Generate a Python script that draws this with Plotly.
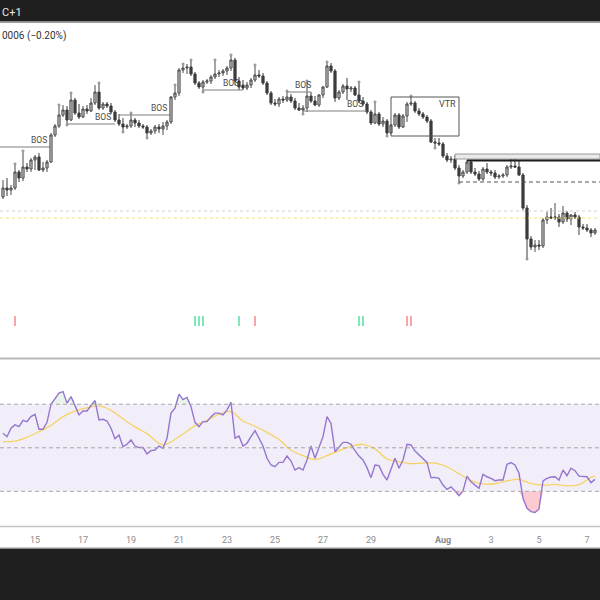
import numpy as np
import pandas as pd
import plotly.graph_objects as go

# 4h bars, first visible bar and count
bar_start = "2024-07-13 16:00"
n_bars = 149
view_start = "2024-07-13 13:00"
view_end = "2024-08-07 13:00"

open_ = [203, 212, 210, 212, 228, 222, 233, 231, 240, 243,
         230, 232, 238, 265, 274, 285, 290, 280, 300, 287,
         283, 291, 289, 297, 308, 292, 296, 294, 288, 280,
         276, 273, 274, 280, 277, 274, 273, 267, 269, 273,
         271, 274, 278, 303, 307, 330, 332, 333, 326, 317,
         313, 318, 319, 323, 326, 327, 329, 332, 340, 319,
         315, 312, 315, 320, 325, 324, 317, 307, 297, 296,
         301, 300, 303, 299, 292, 290, 292, 304, 299, 295,
         305, 313, 334, 329, 302, 308, 314, 311, 312, 305,
         299, 296, 288, 277, 286, 276, 279, 267, 275, 285,
         273, 284, 296, 297, 289, 286, 283, 279, 258, 257,
         256, 244, 240, 241, 232, 224, 228, 238, 228, 226,
         221, 231, 228, 227, 223, 224, 225, 233, 234, 233,
         225, 192, 161, 153, 155, 154, 180, 183, 182, 183,
         178, 187, 181, 185, 183, 173, 172, 170, 167]
high = [220, 222, 215, 235, 230, 248, 237, 242, 245, 247,
        238, 240, 267, 276, 294, 295, 294, 306, 302, 296,
        294, 295, 302, 315, 316, 298, 298, 297, 290, 286,
        282, 276, 286, 282, 280, 276, 275, 271, 275, 276,
        278, 280, 304, 314, 332, 335, 336, 339, 328, 319,
        320, 321, 325, 339, 330, 331, 334, 344, 342, 323,
        320, 318, 322, 334, 330, 327, 319, 309, 301, 303,
        304, 308, 306, 302, 297, 295, 318, 308, 304, 306,
        314, 337, 337, 331, 310, 316, 322, 314, 314, 317,
        303, 298, 290, 297, 288, 283, 281, 276, 287, 287,
        286, 298, 303, 299, 292, 288, 285, 281, 262, 262,
        258, 247, 244, 245, 235, 230, 240, 240, 232, 229,
        233, 237, 230, 230, 226, 227, 235, 239, 239, 240,
        227, 195, 164, 160, 160, 182, 188, 192, 197, 186,
        194, 189, 186, 188, 185, 176, 176, 172, 172]
low = [201, 204, 205, 210, 218, 219, 228, 228, 230, 229,
       228, 228, 237, 263, 272, 283, 276, 279, 285, 281,
       282, 286, 288, 295, 290, 290, 292, 286, 278, 274,
       269, 271, 272, 273, 272, 271, 263, 265, 266, 267,
       265, 270, 276, 300, 304, 327, 326, 324, 315, 311,
       309, 316, 316, 321, 323, 324, 325, 329, 315, 310,
       310, 310, 312, 318, 322, 315, 305, 295, 294, 293,
       297, 298, 297, 290, 289, 287, 288, 297, 294, 293,
       302, 312, 327, 298, 300, 306, 300, 308, 304, 297,
       294, 286, 275, 276, 274, 273, 265, 266, 273, 271,
       272, 278, 294, 287, 284, 281, 277, 257, 253, 254,
       242, 238, 237, 230, 218, 222, 226, 226, 224, 219,
       219, 226, 224, 221, 221, 222, 223, 231, 232, 224,
       190, 142, 150, 148, 150, 152, 176, 181, 180, 173,
       176, 178, 175, 181, 165, 170, 168, 163, 165]
close = [212, 210, 212, 228, 222, 233, 231, 240, 243, 230,
         232, 238, 265, 274, 285, 290, 280, 300, 287, 283,
         291, 289, 297, 308, 292, 296, 294, 288, 280, 276,
         273, 274, 280, 277, 274, 273, 267, 269, 273, 271,
         274, 278, 303, 307, 330, 332, 333, 326, 317, 313,
         318, 319, 323, 326, 327, 329, 332, 340, 319, 313,
         312, 315, 320, 325, 324, 317, 307, 297, 296, 301,
         300, 303, 299, 292, 290, 292, 304, 299, 295, 305,
         313, 334, 329, 302, 308, 314, 311, 312, 305, 299,
         296, 288, 277, 286, 276, 279, 267, 275, 285, 273,
         284, 296, 297, 289, 286, 283, 279, 258, 257, 256,
         244, 240, 241, 232, 224, 228, 238, 228, 226, 221,
         231, 228, 227, 223, 224, 225, 233, 234, 233, 225,
         192, 161, 153, 155, 154, 180, 183, 182, 183, 178,
         187, 181, 185, 183, 173, 172, 170, 167, 170]

rsi = [56.7, 55.1, 59.0, 60.5, 59.7, 62.6, 62.0, 64.3, 65.4, 58.5,
       58.5, 61.7, 70.0, 72.5, 75.1, 75.8, 70.5, 73.5, 69.4, 65.1,
       66.9, 66.9, 69.4, 71.7, 62.8, 63.1, 62.3, 59.0, 54.1, 55.9,
       50.5, 51.6, 53.6, 50.8, 50.1, 50.1, 47.2, 48.7, 49.0, 50.8,
       49.8, 54.4, 65.9, 68.2, 74.6, 72.1, 73.1, 68.9, 61.7, 59.7,
       62.0, 62.0, 64.3, 65.9, 65.9, 65.1, 67.4, 70.9, 54.4, 55.4,
       50.8, 52.1, 55.1, 57.9, 54.4, 50.8, 45.2, 42.1, 41.3, 43.3,
       43.3, 46.2, 43.9, 39.8, 40.9, 39.8, 44.4, 50.8, 45.2, 50.5,
       55.1, 64.3, 61.2, 48.2, 50.2, 52.5, 52.5, 51.6, 48.7, 46.2,
       44.4, 40.9, 36.3, 42.1, 41.8, 37.8, 35.2, 40.6, 45.2, 40.6,
       44.4, 51.6, 51.3, 48.5, 46.7, 45.2, 43.3, 36.3, 36.4, 36.0,
       32.9, 30.9, 32.1, 30.2, 28.0, 30.2, 37.0, 34.4, 32.9, 31.4,
       37.8, 36.7, 36.0, 34.9, 35.2, 35.2, 42.4, 43.2, 42.1, 38.3,
       26.8, 22.2, 20.7, 20.3, 21.9, 34.8, 36.0, 36.6, 36.7, 35.2,
       39.8, 37.2, 40.6, 39.5, 37.0, 37.0, 36.7, 34.0, 35.5]

rsi_ma_idx = [0, 3, 6, 9, 12, 15, 18, 21, 24, 27,
              30, 33, 36, 40, 44, 48, 51, 54, 57, 60,
              63, 66, 69, 72, 75, 78, 81, 84, 87, 90,
              93, 96, 99, 102, 105, 108, 111, 114, 117, 120,
              123, 126, 129, 132, 135, 138, 141, 144, 147, 148]
rsi_ma = [52.8, 53.1, 54.8, 57.4, 60.3, 64.3, 66.8, 68.3, 69.2, 67.2,
          63.3, 59.6, 56.5, 51.4, 55.1, 60.2, 62.6, 65.4, 66.6, 62.3,
          59.9, 57.1, 53.8, 48.9, 46.4, 44.6, 46.4, 48.7, 50.7, 51.6,
          49.5, 44.9, 43.6, 42.7, 43.0, 43.0, 41.3, 38.1, 34.9, 33.4,
          33.5, 34.8, 35.5, 33.5, 32.8, 33.2, 32.5, 33.1, 36.4, 37.0]

tick_dates = ["2024-07-15", "2024-07-17", "2024-07-19", "2024-07-21",
              "2024-07-23", "2024-07-25", "2024-07-27", "2024-07-29",
              "2024-08-01", "2024-08-03", "2024-08-05", "2024-08-07"]
tick_text = ["15", "17", "19", "21", "23", "25", "27", "29",
             "<b>Aug</b>", "3", "5", "7"]

# structure breaks: level, start bar, end bar, label bar (-1 = before view)
bos_level = [253, 276, 285, 310, 308, 289]
bos_from = [-1, 16, 29, 50, 71, 75]
bos_to = [12, 28, 42, 60, 77, 91]
bos_label_at = [9, 25, 39, 57, 75, 88]

vtr_box = dict(k0=97, k1=114, lo=264, hi=303, label_k=111, label_y=296)
zone_box = dict(k0=113, lo=241, hi=246)
range_high = dict(k0=116, level=239.5)
range_low = dict(k0=114, level=218)
dotted_grey = 189
dotted_yellow = 182

pivot_high_idx = [3, 5, 14, 17, 24, 32, 43, 45, 47, 53, 57, 63, 71, 76,
                  81, 89, 93, 102, 127, 128]
pivot_low_idx = [16, 30, 36, 50, 75, 96, 108, 114, 131]

sig_red_idx = [3, 63, 101, 102]
sig_green_idx = [48, 49, 50, 59, 89, 90]
sig_level = 79

t = pd.date_range(bar_start, periods=n_bars, freq="4h")
high_a = np.array(high)
low_a = np.array(low)
rsi_a = np.array(rsi)


def bar_time(k):
    if k < 0:
        return pd.Timestamp(view_start)
    return t[k]


fig = go.Figure()

fig.add_trace(go.Candlestick(
    x=t, open=open_, high=high, low=low, close=close,
    increasing=dict(fillcolor="#c6c6c6", line=dict(color="#4a4a4a", width=1)),
    decreasing=dict(fillcolor="#3c3c3c", line=dict(color="#3c3c3c", width=1)),
    whiskerwidth=0, xaxis="x", yaxis="y", hoverinfo="skip",
))

# pivot dots
dot_style = dict(size=2.5, color="#a8a8a8", line=dict(color="#808080", width=0.4))
fig.add_trace(go.Scatter(
    x=t[pivot_high_idx], y=high_a[pivot_high_idx] + 1, mode="markers",
    marker=dot_style, xaxis="x", yaxis="y", hoverinfo="skip"))
fig.add_trace(go.Scatter(
    x=t[pivot_low_idx], y=low_a[pivot_low_idx] - 1, mode="markers",
    marker=dot_style, xaxis="x", yaxis="y", hoverinfo="skip"))

# signal ticks
for idx, col in [(sig_red_idx, "#f58e92"), (sig_green_idx, "#5ee3a4")]:
    fig.add_trace(go.Scatter(
        x=t[idx], y=[sig_level] * len(idx), mode="markers",
        marker=dict(symbol="line-ns", size=7, line=dict(color=col, width=1.6)),
        xaxis="x", yaxis="y", hoverinfo="skip"))

# RSI overbought / oversold fills
fig.add_trace(go.Scatter(x=t, y=[30] * n_bars, mode="lines", line=dict(width=0),
                         xaxis="x", yaxis="y2", hoverinfo="skip"))
fig.add_trace(go.Scatter(x=t, y=np.minimum(rsi_a, 30), mode="lines", line=dict(width=0),
                         fill="tonexty", fillcolor="rgba(242,54,69,0.26)",
                         xaxis="x", yaxis="y2", hoverinfo="skip"))
fig.add_trace(go.Scatter(x=t, y=[70] * n_bars, mode="lines", line=dict(width=0),
                         xaxis="x", yaxis="y2", hoverinfo="skip"))
fig.add_trace(go.Scatter(x=t, y=np.maximum(rsi_a, 70), mode="lines", line=dict(width=0),
                         fill="tonexty", fillcolor="rgba(76,175,80,0.12)",
                         xaxis="x", yaxis="y2", hoverinfo="skip"))

fig.add_trace(go.Scatter(x=t[rsi_ma_idx], y=rsi_ma, mode="lines",
                         line=dict(color="#f6d365", width=1.3, shape="spline"),
                         xaxis="x", yaxis="y2", hoverinfo="skip"))
fig.add_trace(go.Scatter(x=t, y=rsi, mode="lines",
                         line=dict(color="#9575cd", width=1.4),
                         xaxis="x", yaxis="y2", hoverinfo="skip"))

shapes = []
# RSI band and levels
shapes.append(dict(type="rect", xref="paper", yref="y2", x0=0, x1=1, y0=30, y1=70,
                   fillcolor="rgba(126,87,194,0.1)", line=dict(width=0), layer="below"))
for lv in [70, 50, 30]:
    shapes.append(dict(type="line", xref="paper", yref="y2", x0=0, x1=1, y0=lv, y1=lv,
                       line=dict(color="#a8a8a8", width=1, dash="4px,3px")))

# BOS lines
for lv, k0, k1 in zip(bos_level, bos_from, bos_to):
    shapes.append(dict(type="line", xref="x", yref="y", x0=bar_time(k0), x1=t[k1],
                       y0=lv, y1=lv, line=dict(color="#7c7c7c", width=1)))

shapes.append(dict(type="rect", xref="x", yref="y", x0=t[vtr_box["k0"]], x1=t[vtr_box["k1"]],
                   y0=vtr_box["lo"], y1=vtr_box["hi"], line=dict(color="#555", width=1)))
shapes.append(dict(type="rect", xref="x", yref="y", x0=t[zone_box["k0"]], x1=view_end,
                   y0=zone_box["lo"], y1=zone_box["hi"], fillcolor="#e9e9e9",
                   line=dict(color="#9a9a9a", width=1)))
shapes.append(dict(type="line", xref="x", yref="y", x0=t[range_high["k0"]], x1=view_end,
                   y0=range_high["level"], y1=range_high["level"],
                   line=dict(color="#1c1c1c", width=2)))
shapes.append(dict(type="line", xref="x", yref="y", x0=t[range_low["k0"]], x1=view_end,
                   y0=range_low["level"], y1=range_low["level"],
                   line=dict(color="#555", width=1, dash="4px,3px")))
shapes.append(dict(type="line", xref="paper", yref="y", x0=0, x1=1,
                   y0=dotted_grey, y1=dotted_grey, line=dict(color="#cfcfcf", width=1, dash="dot")))
shapes.append(dict(type="line", xref="paper", yref="y", x0=0, x1=1,
                   y0=dotted_yellow, y1=dotted_yellow, line=dict(color="#f2e27c", width=1, dash="dot")))

# frame: dark bars and pane separators
shapes.append(dict(type="rect", xref="paper", yref="paper", x0=0, x1=1, y0=1 - 21.5 / 600, y1=1,
                   fillcolor="#1f1f1f", line=dict(width=0)))
shapes.append(dict(type="line", xref="paper", yref="paper", x0=0, x1=1,
                   y0=1 - 22.5 / 600, y1=1 - 22.5 / 600, line=dict(color="#9a9a9a", width=1)))
shapes.append(dict(type="rect", xref="paper", yref="paper", x0=0, x1=1, y0=0, y1=1 - 548.5 / 600,
                   fillcolor="#1f1f1f", line=dict(width=0)))
shapes.append(dict(type="line", xref="paper", yref="paper", x0=0, x1=1,
                   y0=1 - 358.5 / 600, y1=1 - 358.5 / 600, line=dict(color="#b8b8b8", width=2)))
shapes.append(dict(type="line", xref="paper", yref="paper", x0=0, x1=1,
                   y0=1 - 526.5 / 600, y1=1 - 526.5 / 600, line=dict(color="#c4c4c4", width=1.5)))
shapes.append(dict(type="line", xref="paper", yref="paper", x0=0, x1=1,
                   y0=1 - 547.5 / 600, y1=1 - 547.5 / 600, line=dict(color="#c8c8c8", width=1)))

annotations = []
for lv, k in zip(bos_level, bos_label_at):
    annotations.append(dict(x=t[k], y=lv, xref="x", yref="y", text="BOS", showarrow=False,
                            yanchor="bottom", font=dict(family="Roboto", size=8.5, color="#4a4a4a")))
annotations.append(dict(x=t[vtr_box["label_k"]], y=vtr_box["label_y"], xref="x", yref="y",
                        text="VTR", showarrow=False,
                        font=dict(family="Roboto", size=9, color="#4a4a4a")))
annotations.append(dict(x=0, y=1 - 12 / 600, xref="paper", yref="paper", text="C+1",
                        showarrow=False, xanchor="left", yanchor="middle",
                        font=dict(family="Roboto", size=11, color="#e8e8e8")))
annotations.append(dict(x=0, y=1 - 36 / 600, xref="paper", yref="paper", text="0006 (\u22120.20%)",
                        showarrow=False, xanchor="left", yanchor="middle",
                        font=dict(family="Roboto", size=10, color="#333")))

fig.update_layout(
    width=600, height=600,
    margin=dict(l=0, r=0, t=0, b=0),
    paper_bgcolor="white", plot_bgcolor="white",
    showlegend=False, hovermode=False, boxgap=0.22,
    shapes=shapes, annotations=annotations,
    xaxis=dict(domain=[0, 1], anchor="y2", range=[view_start, view_end],
               showgrid=False, zeroline=False, showline=False,
               ticks="outside", ticklen=4, tickcolor="rgba(0,0,0,0)",
               tickvals=tick_dates, ticktext=tick_text,
               tickfont=dict(family="Roboto", size=9, color="#8c8c8c"),
               rangeslider=dict(visible=False)),
    yaxis=dict(domain=[1 - 358 / 600, 1 - 23 / 600], range=[42, 377], visible=False),
    yaxis2=dict(domain=[1 - 527 / 600, 1 - 359 / 600], range=[13.64, 90.76], visible=False),
)

# page has a default body margin; drop it so the figure fills the window
fig.write_html("out.html", config={"displayModeBar": False},
               post_script="document.body.style.margin='0';")
